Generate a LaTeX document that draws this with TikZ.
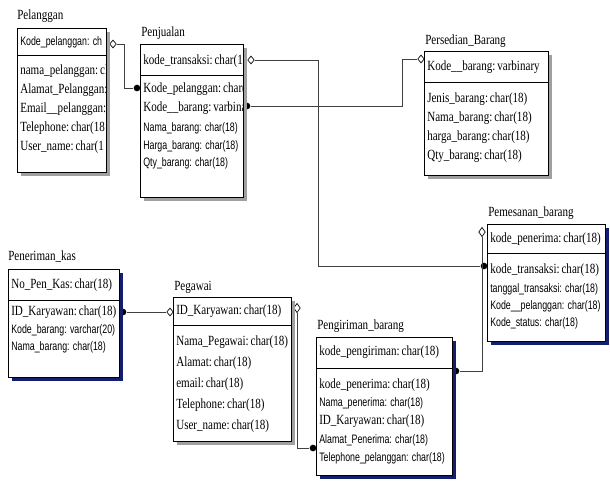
\documentclass[tikz,border=0pt]{standalone}
\usepackage{fontspec}
\setmainfont{Liberation Serif}
\newfontfamily\rowserif[FakeStretch=0.79, WordSpace=0.35]{Liberation Serif}
\newfontfamily\rowsans[FakeStretch=0.72]{Liberation Sans}
\usepackage{tikz}
\usetikzlibrary{shapes.geometric}

\definecolor{shadegray}{RGB}{160,160,160}
\definecolor{shadenavy}{RGB}{20,30,110}

\tikzset{
  fld/.style={anchor=west, inner sep=0.75pt, font=\rowserif\fontsize{10.5}{12}\selectfont},
  fldsans/.style={anchor=west, inner sep=0.75pt, font=\rowsans\fontsize{9.2}{11}\selectfont},
  opendia/.style={diamond, draw, fill=white, line width=0.5pt, inner sep=0pt, minimum width=5pt, minimum height=6pt},
  dotend/.style={circle, fill=black, inner sep=0pt, minimum size=5pt},
  link/.style={line width=0.5pt, color=black!75},
  frame/.style={line width=0.75pt, fill=white}
}

\begin{document}
\begin{tikzpicture}[x=0.75pt,y=0.75pt,yscale=-1,xscale=1]
    \useasboundingbox (0,0) rectangle (610,480);

    % Relation ends
    \node [opendia] (d_pel) at (113,44) {};
    \node [dotend] (c_pjl_l) at (137,88) {};
    \node [dotend] (c_pjl_r) at (247,106) {};
    \node [opendia] (d_pjl_r) at (251,60) {};
    \node [opendia] (d_psd) at (421,59) {};
    \node [dotend] (c_pms) at (484,266) {};
    \node [opendia, minimum width=5pt, minimum height=7pt] (d_pms) at (482,232) {};
    \node [dotend] (c_pgr_r) at (456,371) {};
    \node [dotend] (c_pgr_l) at (313,448) {};
    \node [opendia, minimum width=5pt, minimum height=7pt] (d_pgw) at (297,308) {};
    \node [dotend] (c_pnk) at (123,312) {};
    \node [opendia] (d_pgw_l) at (170,312) {};

    %Shape: Rectangle [Pelanggan]
    \fill [shadegray] (21,32) rectangle (110,176);
    \draw [frame] (17,28) rectangle (106,172);
    \draw (17,55) -- (106,55);
    %Shape: Rectangle [Penjualan]
    \fill [shadegray] (144,48) rectangle (247,201);
    \draw [frame] (140,44) rectangle (243,197);
    \draw (140,75) -- (243,75);
    %Shape: Rectangle [Persedian_Barang]
    \fill [shadegray] (428,55) rectangle (552,179);
    \draw [frame] (424,51) rectangle (548,175);
    \draw (424,82) -- (548,82);
    %Shape: Rectangle [Pemesanan_barang]
    \fill [shadenavy] (491,228) rectangle (609,345);
    \draw [frame] (487,224) rectangle (605,341);
    \draw (487,253) -- (605,253);
    %Shape: Rectangle [Pengiriman_barang]
    \fill [shadenavy] (320,341) rectangle (456,479);
    \draw [frame] (316,337) rectangle (452,475);
    \draw (316,368) -- (452,368);
    %Shape: Rectangle [Pegawai]
    \fill [shadegray] (177,301) rectangle (295,445);
    \draw [frame] (173,297) rectangle (291,441);
    \draw (173,325) -- (291,325);
    %Shape: Rectangle [Peneriman_kas]
    \fill [shadenavy] (12,273) rectangle (123,381);
    \draw [frame] (8,269) rectangle (119,377);
    \draw (8,300) -- (119,300);

    % Connectors
    \draw [link] (d_pel) -- ++(11,0) |- (c_pjl_l);
    \draw [link] (c_pjl_r) -- ++(155,0) |- (d_psd);
    \draw [link] (d_pjl_r) -- ++(67,0) |- (c_pms);
    \draw [link] (d_pms) |- (c_pgr_r);
    \draw [link] (d_pgw) |- (c_pgr_l);
    \draw [link] (c_pnk) -- (d_pgw_l);

    % Text Node
    \node [fld] (t_pel) at (16,16) {Pelanggan};
    \begin{scope}
      \clip (17,28) rectangle (105,172);
      \node [fldsans] (pel_1) at (19,42) {Kode\_pelanggan: ch};
      \node [fld] (pel_2) at (19,71) {nama\_pelanggan: cl};
      \node [fld] (pel_3) at (19,90) {Alamat\_Pelanggan:};
      \node [fld] (pel_4) at (19,109) {Email\_\_pelanggan: c};
      \node [fld] (pel_5) at (19,128) {Telephone: char(18};
      \node [fld] (pel_6) at (19,147) {User\_name: char(1};
    \end{scope}
    % Text Node
    \node [fld] (t_pjl) at (140,33) {Penjualan};
    \begin{scope}
      \clip (140,44) rectangle (242,197);
      \node [fld] (pjl_1) at (142,61) {kode\_transaksi: char(1};
      \node [fld] (pjl_2) at (142,89) {Kode\_pelanggan: char(};
      \node [fld] (pjl_3) at (142,108) {Kode\_\_barang: varbina};
      \node [fldsans] (pjl_4) at (142,128) {Nama\_barang: char(18)};
      \node [fldsans] (pjl_5) at (142,146) {Harga\_barang: char(18)};
      \node [fldsans] (pjl_6) at (142,163) {Qty\_barang: char(18)};
    \end{scope}
    % Text Node
    \node [fld] (t_psd) at (424,41) {Persedian\_Barang};
    \node [fld] (psd_1) at (426,67) {Kode\_\_barang: varbinary};
    \node [fld] (psd_2) at (426,99) {Jenis\_barang: char(18)};
    \node [fld] (psd_3) at (426,118) {Nama\_barang: char(18)};
    \node [fld] (psd_4) at (426,137) {harga\_barang: char(18)};
    \node [fld] (psd_5) at (426,156) {Qty\_barang: char(18)};
    % Text Node
    \node [fld] (t_pms) at (487,213) {Pemesanan\_barang};
    \node [fld] (pms_1) at (489,239) {kode\_penerima: char(18)};
    \node [fld] (pms_2) at (489,270) {kode\_transaksi: char(18)};
    \node [fldsans] (pms_3) at (489,289) {tanggal\_transaksi: char(18)};
    \node [fldsans] (pms_4) at (489,306) {Kode\_\_pelanggan: char(18)};
    \node [fldsans] (pms_5) at (489,323) {Kode\_status: char(18)};
    % Text Node
    \node [fld] (t_pgr) at (316,326) {Pengiriman\_barang};
    \node [fld] (pgr_1) at (318,352) {kode\_pengiriman: char(18)};
    \node [fld] (pgr_2) at (318,385) {kode\_penerima: char(18)};
    \node [fldsans] (pgr_3) at (318,403) {Nama\_penerima: char(18)};
    \node [fld] (pgr_4) at (318,421) {ID\_Karyawan: char(18)};
    \node [fldsans] (pgr_5) at (318,440) {Alamat\_Penerima: char(18)};
    \node [fldsans] (pgr_6) at (318,458) {Telephone\_pelanggan: char(18)};
    % Text Node
    \node [fld] (t_pgw) at (173,287) {Pegawai};
    \node [fld] (pgw_1) at (175,311) {ID\_Karyawan: char(18)};
    \node [fld] (pgw_2) at (175,342) {Nama\_Pegawai: char(18)};
    \node [fld] (pgw_3) at (175,363) {Alamat: char(18)};
    \node [fld] (pgw_4) at (175,384) {email: char(18)};
    \node [fld] (pgw_5) at (175,405) {Telephone: char(18)};
    \node [fld] (pgw_6) at (175,426) {User\_name: char(18)};
    % Text Node
    \node [fld] (t_pnk) at (7,257) {Peneriman\_kas};
    \node [fld] (pnk_1) at (10,285) {No\_Pen\_Kas: char(18)};
    \node [fld] (pnk_2) at (10,312) {ID\_Karyawan: char(18)};
    \node [fldsans] (pnk_3) at (10,330) {Kode\_barang: varchar(20)};
    \node [fldsans] (pnk_4) at (10,347) {Nama\_barang: char(18)};

\end{tikzpicture}
\end{document}
